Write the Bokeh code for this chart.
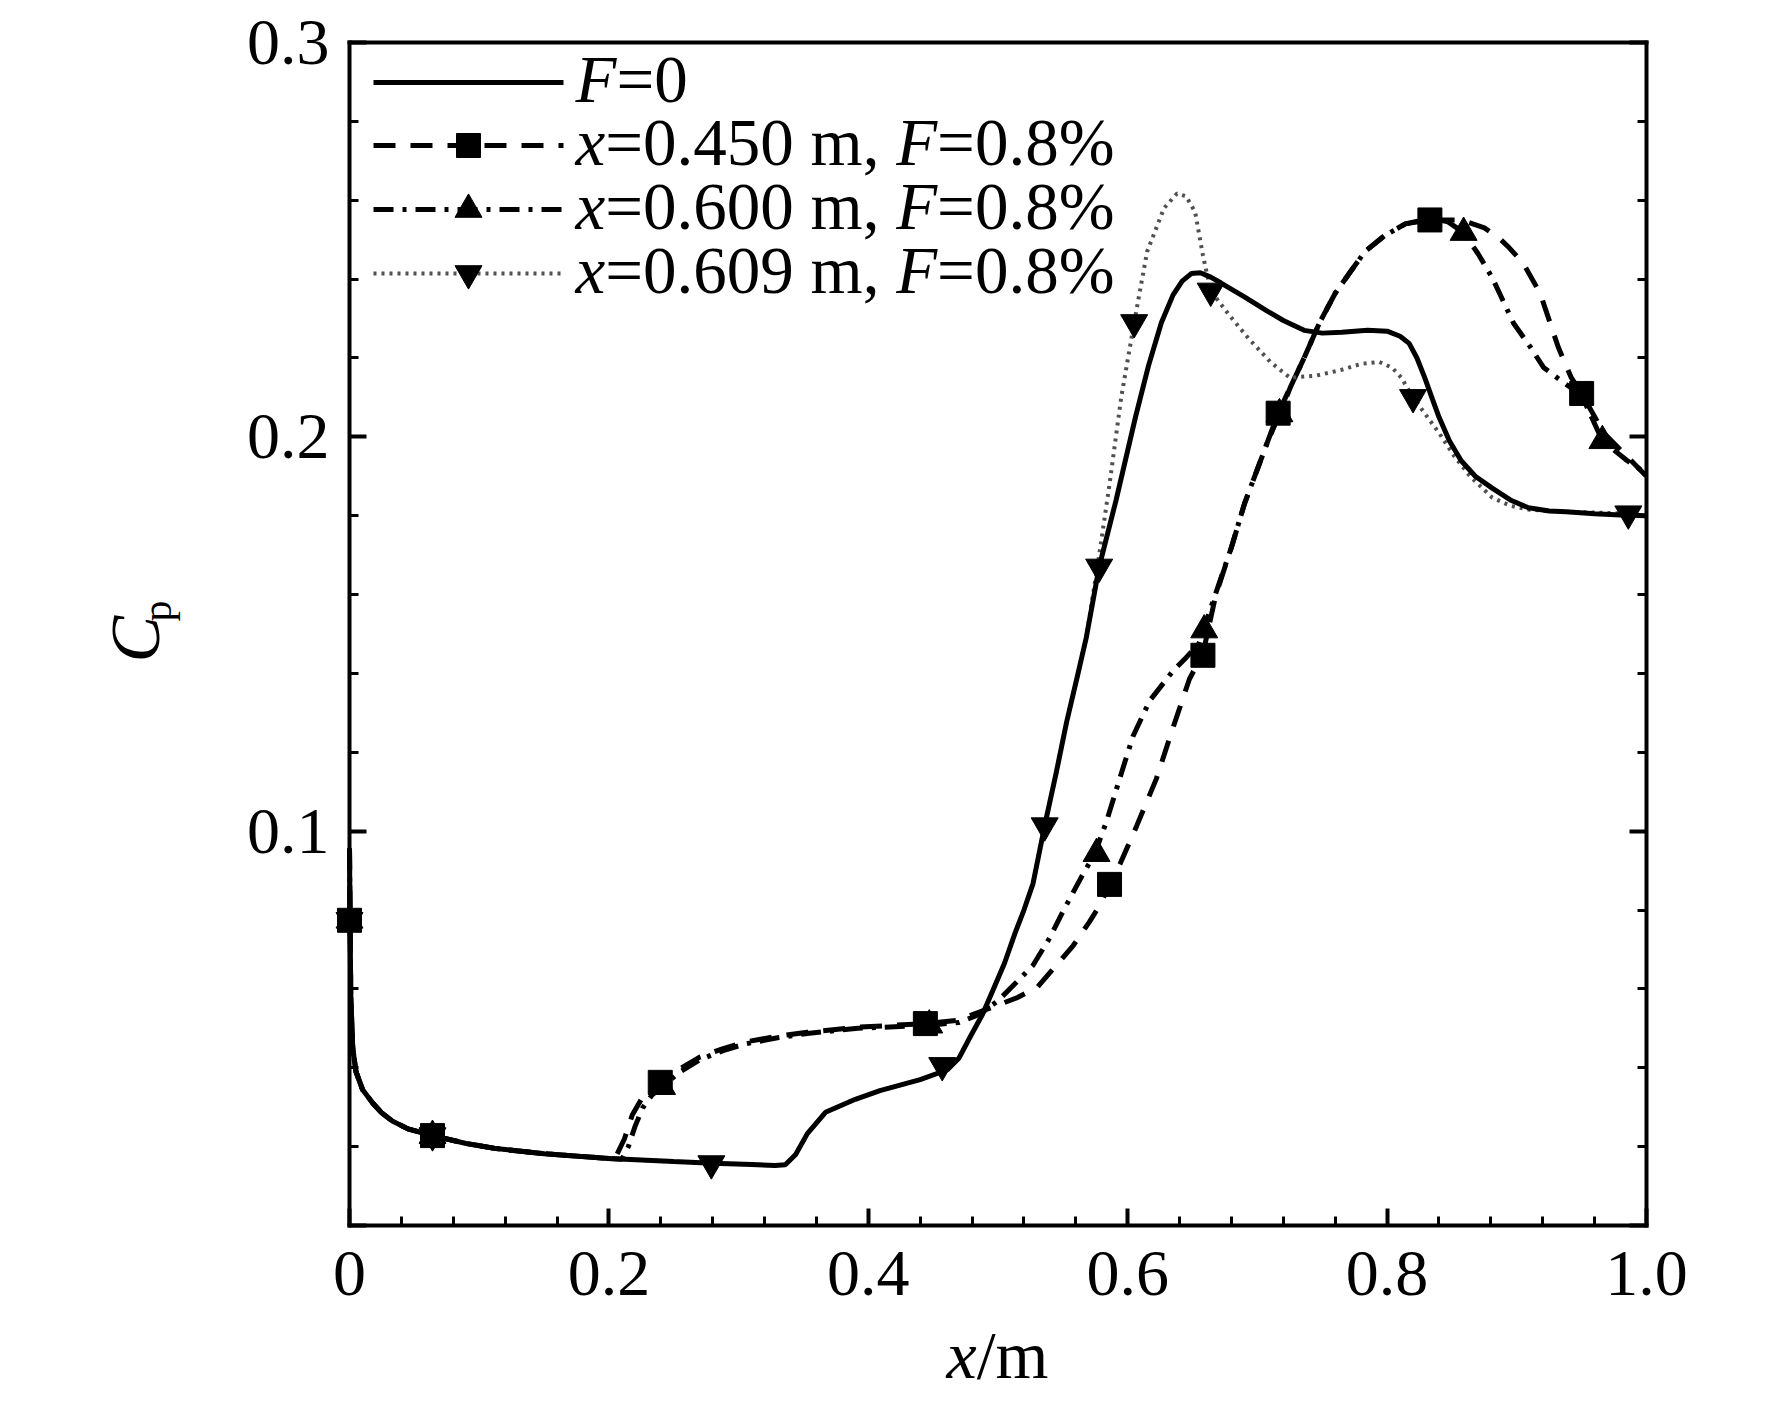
from math import pi
from bokeh.plotting import figure
from bokeh.models import FixedTicker, LinearAxis, Range1d
from bokeh.core.properties import value
from bokeh.embed import file_html
from bokeh.resources import INLINE

FONT = "Liberation Serif"

# ---------------- data ----------------
# F = 0 (solid)
x_f0 = [0.0, 0.0005, 0.001, 0.0025, 0.005, 0.01, 0.018, 0.025, 0.033, 0.045, 0.064,
        0.09, 0.113, 0.15, 0.2, 0.25, 0.28, 0.31, 0.328, 0.336, 0.344, 0.353, 0.367,
        0.39, 0.409, 0.44, 0.461, 0.47, 0.4785, 0.488, 0.496, 0.505, 0.513, 0.52,
        0.527, 0.536, 0.545, 0.553, 0.561, 0.568, 0.578, 0.591, 0.606, 0.616, 0.626,
        0.635, 0.642, 0.649, 0.656, 0.664, 0.672, 0.69, 0.707, 0.72, 0.736, 0.75,
        0.765, 0.785, 0.8, 0.81, 0.817, 0.823, 0.829, 0.835, 0.84, 0.848, 0.857,
        0.868, 0.881, 0.895, 0.909, 0.925, 0.938, 0.96, 0.98, 1.0]
cp_f0 = [0.0956, 0.075, 0.058, 0.045, 0.039, 0.0345, 0.031, 0.0285, 0.0265, 0.0245,
         0.0228, 0.0208, 0.0195, 0.0182, 0.0170, 0.0162, 0.0158, 0.0155, 0.0152, 0.0154,
         0.0180, 0.0233, 0.0287, 0.0320, 0.0342, 0.0370, 0.0395, 0.0425, 0.0478, 0.0535,
         0.0596, 0.0665, 0.0740, 0.0800, 0.0867, 0.1014, 0.1150, 0.1278, 0.1390, 0.1490,
         0.1670, 0.1839, 0.2050, 0.2180, 0.2290, 0.2360, 0.2395, 0.2414, 0.2416, 0.2405,
         0.2390, 0.2355, 0.2320, 0.2295, 0.2270, 0.2263, 0.2265, 0.2270, 0.2268, 0.2255,
         0.2237, 0.2200, 0.2150, 0.2095, 0.2050, 0.1990, 0.1940, 0.1900, 0.1870, 0.1840,
         0.1820, 0.1812, 0.1810, 0.1805, 0.1802, 0.1800]

# x = 0.450 m, F = 0.8% (dashed, squares)
x_450 = [0.0, 0.0005, 0.001, 0.0025, 0.005, 0.01, 0.018, 0.025, 0.033, 0.045, 0.064,
         0.09, 0.113, 0.15, 0.2, 0.205, 0.212, 0.218, 0.225, 0.2396, 0.255, 0.27,
         0.2875, 0.3045, 0.33, 0.353, 0.392, 0.444, 0.468, 0.496, 0.515, 0.5305, 0.545,
         0.558, 0.5705, 0.579, 0.586, 0.594, 0.607, 0.622, 0.6346, 0.6476, 0.658, 0.668,
         0.68, 0.69, 0.707, 0.716, 0.726, 0.736, 0.748, 0.76, 0.772, 0.783, 0.798, 0.814,
         0.833, 0.857, 0.875, 0.886, 0.894, 0.905, 0.918, 0.932, 0.942, 0.95, 0.967,
         0.985, 1.0]
cp_450 = [0.0956, 0.075, 0.058, 0.045, 0.039, 0.0345, 0.031, 0.0285, 0.0265, 0.0245,
          0.0228, 0.0208, 0.0195, 0.0182, 0.0170, 0.0172, 0.0220, 0.0280, 0.0320, 0.0363,
          0.0398, 0.0427, 0.0448, 0.0465, 0.0480, 0.0490, 0.0503, 0.0512, 0.0520, 0.0554,
          0.0578, 0.0605, 0.0660, 0.0710, 0.0770, 0.0815, 0.0865, 0.0916, 0.1014, 0.1132,
          0.1259, 0.1386, 0.1450, 0.1600, 0.1720, 0.1830, 0.1980, 0.2060, 0.2130, 0.2200,
          0.2290, 0.2364, 0.2420, 0.2470, 0.2510, 0.2540, 0.2550, 0.2550, 0.2530, 0.2505,
          0.2480, 0.2440, 0.2364, 0.2227, 0.2150, 0.2110, 0.2010, 0.1950, 0.1900]

# x = 0.600 m, F = 0.8% (dash-dot, triangles up)
x_600 = [0.0, 0.0005, 0.001, 0.0025, 0.005, 0.01, 0.018, 0.025, 0.033, 0.045, 0.064,
         0.09, 0.113, 0.15, 0.2, 0.21, 0.215, 0.22, 0.226, 0.233, 0.241, 0.255, 0.27,
         0.2875, 0.3045, 0.33, 0.353, 0.392, 0.447, 0.47, 0.4857, 0.5, 0.514, 0.527,
         0.54, 0.55, 0.565, 0.5745, 0.5836, 0.5937, 0.604, 0.617, 0.6346, 0.645, 0.655,
         0.6655, 0.68, 0.69, 0.707, 0.717, 0.726, 0.736, 0.748, 0.76, 0.772, 0.783,
         0.798, 0.814, 0.835, 0.847, 0.859, 0.87, 0.881, 0.8975, 0.91, 0.9206, 0.935,
         0.95, 0.966, 0.985, 1.0]
cp_600 = [0.0956, 0.075, 0.058, 0.045, 0.039, 0.0345, 0.031, 0.0285, 0.0265, 0.0245,
          0.0228, 0.0208, 0.0195, 0.0182, 0.0170, 0.0168, 0.0200, 0.0250, 0.0298, 0.0330,
          0.0352, 0.0390, 0.0420, 0.0443, 0.0460, 0.0476, 0.0487, 0.0500, 0.0508, 0.0515,
          0.0535, 0.0570, 0.0616, 0.0660, 0.0730, 0.0796, 0.0888, 0.0942, 0.1024, 0.1132,
          0.1240, 0.1331, 0.1405, 0.1440, 0.1476, 0.1580, 0.1720, 0.1830, 0.1980, 0.2058,
          0.2130, 0.2200, 0.2290, 0.2364, 0.2420, 0.2470, 0.2510, 0.2540, 0.2555, 0.2545,
          0.2518, 0.2465, 0.2404, 0.2288, 0.2230, 0.2176, 0.2140, 0.2105, 0.1990, 0.1940,
          0.1907]

# x = 0.609 m, F = 0.8% (dotted, triangles down)
x_609 = [0.0, 0.0005, 0.001, 0.0025, 0.005, 0.01, 0.018, 0.025, 0.033, 0.045, 0.064,
         0.09, 0.113, 0.15, 0.2, 0.25, 0.28, 0.31, 0.328, 0.336, 0.344, 0.353, 0.367,
         0.39, 0.409, 0.44, 0.461, 0.47, 0.4785, 0.488, 0.496, 0.505, 0.513, 0.52,
         0.527, 0.536, 0.545, 0.553, 0.561, 0.568, 0.578, 0.586, 0.595, 0.605, 0.615,
         0.628, 0.638, 0.645, 0.652, 0.658, 0.664, 0.678, 0.693, 0.71, 0.725, 0.745,
         0.765, 0.78, 0.794, 0.804, 0.811, 0.82, 0.83, 0.84, 0.852, 0.864, 0.881, 0.895,
         0.91, 0.938, 0.96, 0.986, 1.0]
cp_609 = [0.0956, 0.075, 0.058, 0.045, 0.039, 0.0345, 0.031, 0.0285, 0.0265, 0.0245,
          0.0228, 0.0208, 0.0195, 0.0182, 0.0170, 0.0162, 0.0158, 0.0155, 0.0152, 0.0154,
          0.0180, 0.0233, 0.0287, 0.0320, 0.0342, 0.0370, 0.0395, 0.0425, 0.0478, 0.0535,
          0.0596, 0.0665, 0.0740, 0.0800, 0.0867, 0.1014, 0.1150, 0.1278, 0.1390, 0.1490,
          0.1700, 0.1880, 0.2100, 0.2290, 0.2470, 0.2580, 0.2617, 0.2610, 0.2570, 0.2460,
          0.2370, 0.2310, 0.2250, 0.2190, 0.2150, 0.2155, 0.2170, 0.2185, 0.2190, 0.2175,
          0.2150, 0.2100, 0.2055, 0.2010, 0.1950, 0.1900, 0.1846, 0.1825, 0.1815, 0.1810,
          0.1808, 0.1805, 0.1800]

# symbol positions
sq_x = [0.0, 0.064, 0.2396, 0.444, 0.586, 0.658, 0.716, 0.833, 0.950]
sq_y = [0.0774, 0.0228, 0.0363, 0.0512, 0.0865, 0.1446, 0.2060, 0.2550, 0.2110]
tu_x = [0.0, 0.064, 0.241, 0.447, 0.576, 0.659, 0.717, 0.859, 0.966]
tu_y = [0.0774, 0.0228, 0.0352, 0.0508, 0.0943, 0.1510, 0.2058, 0.2518, 0.1990]
td_x = [0.0, 0.064, 0.279, 0.457, 0.536, 0.578, 0.605, 0.664, 0.820, 0.986]
td_y = [0.0774, 0.0228, 0.0157, 0.0406, 0.1014, 0.1670, 0.2290, 0.2370, 0.2100, 0.1805]

# axes
x_major = [0.0, 0.2, 0.4, 0.6, 0.8, 1.0]
x_tick_labels = ["0", "0.2", "0.4", "0.6", "0.8", "1.0"]
y_major = [0.0, 0.1, 0.2, 0.3]
y_tick_labels = ["", "0.1", "0.2", "0.3"]
x_minor = [round(0.04 * i, 2) for i in range(26)]
y_minor = [round(0.02 * i, 2) for i in range(16)]

# legend entries: (segment text, italic?)
legend_rows = [
    [("F", True), ("=0", False)],
    [("x", True), ("=0.450 m, ", False), ("F", True), ("=0.8%", False)],
    [("x", True), ("=0.600 m, ", False), ("F", True), ("=0.8%", False)],
    [("x", True), ("=0.609 m, ", False), ("F", True), ("=0.8%", False)],
]
x_title = [("x", True), ("/m", False)]
y_title = [("C", True), ("p", False)]

# ---------------- page geometry ----------------
FL, FT, FW, FH = 349, 42, 1297, 1183          # data box in page pixels
X0, X1, Y0, Y1 = 0.0, 1.0, 0.0, 0.3
CX, CY, W, H = 0, 0, 1760, 1400                # canvas on the page
BASE_SHIFT = 0.39                              # renderer's baseline offset (em)


def dx(px):
    return X0 + (px - FL) / FW * (X1 - X0)


def dy(py):
    return Y0 + (FT + FH - py) / FH * (Y1 - Y0)


W_REG = {c: 500 for c in "0123456789"}
W_REG.update({'.': 250, ',': 250, ' ': 250, 'm': 778, '=': 564, '%': 833, '/': 278,
              'p': 500, 'F': 556, 'x': 500})
W_ITA = {'x': 444, 'F': 611, 'C': 667}


def seg_w(s, italic, size):
    tbl = W_ITA if italic else W_REG
    return sum(tbl.get(c, W_REG.get(c, 500)) for c in s) / 1000.0 * size


# the plotting frame fills the canvas; axes are pinned to the data box
p = figure(width=W, height=H,
           x_range=Range1d(dx(CX), dx(CX + W)), y_range=Range1d(dy(CY + H), dy(CY)),
           output_backend="svg", toolbar_location=None, min_border=0,
           background_fill_color="white", border_fill_color="white")
p.grid.visible = False
p.outline_line_color = None


def style_axis(ax, ticks, minor, labels, standoff, show=True, tick_len=(17, 9)):
    ax.ticker = FixedTicker(ticks=ticks, minor_ticks=minor)
    ax.major_label_overrides = {t: (l if show else "") for t, l in zip(ticks, labels)}
    ax.axis_line_width = 4
    ax.axis_line_color = "black"
    ax.axis_line_cap = "square"
    ax.major_tick_line_width = 4
    ax.minor_tick_line_width = 3
    ax.major_tick_in = tick_len[0]
    ax.major_tick_out = 0
    ax.minor_tick_in = tick_len[1]
    ax.minor_tick_out = 0
    ax.major_label_text_font = FONT
    ax.major_label_text_font_size = "66px" if show else "0px"
    ax.major_label_text_color = "black"
    ax.major_label_standoff = standoff
    ax.axis_label = None


xa = p.xaxis[0]
xa.fixed_location = Y0
xa.bounds = (X0, X1)
style_axis(xa, x_major, x_minor, x_tick_labels, 26)

ya = p.yaxis[0]
ya.fixed_location = X0
ya.bounds = (Y0, Y1)
style_axis(ya, y_major, y_minor, y_tick_labels, 20)

ra = LinearAxis(fixed_location=X1, bounds=(Y0, Y1))
p.add_layout(ra, "right")
style_axis(ra, y_major, y_minor, y_tick_labels, 5, show=False)

ta = LinearAxis(fixed_location=Y1, bounds=(X0, X1))
p.add_layout(ta, "above")
style_axis(ta, [], [], [], 5, show=False, tick_len=(0, 0))

# ---------------- curves ----------------
S_SOLID = dict(line_color="black", line_width=5)
S_DASH = dict(line_color="black", line_width=5, line_dash="22 15")
S_DDOT = dict(line_color="black", line_width=5, line_dash="20 9 4 9")
S_DOT = dict(line_color="#505050", line_width=4, line_dash="3 5")

p.line(x_450, cp_450, **S_DASH)
p.line(x_600, cp_600, **S_DDOT)
p.line(x_609, cp_609, **S_DOT)
p.line(x_f0, cp_f0, **S_SOLID)

M_SQ = dict(marker="square", size=24, color="black")
M_TU = dict(marker="triangle", size=27, color="black")
M_TD = dict(marker="inverted_triangle", size=27, color="black")

p.scatter(sq_x, sq_y, **M_SQ)
p.scatter(tu_x, tu_y, **M_TU)
p.scatter(td_x, td_y, **M_TD)


def draw_segments(segs, x_px, base_px, size):
    """Place consecutive text runs (italic / upright) on one baseline."""
    cx = x_px
    y_px = base_px - BASE_SHIFT * size
    for s, it in segs:
        p.text(x=[dx(cx)], y=[dy(y_px)], text=[s], text_font=value(FONT),
               text_font_size=value(f"{size}px"),
               text_font_style="italic" if it else "normal",
               text_color="black", text_baseline="alphabetic", text_align="left")
        cx += seg_w(s, it, size)


# ---------------- legend (drawn by hand to allow italic parts) ----------------
row_y = [82, 145, 209, 273]
line_x0, line_x1, mark_x = 373, 563, 468
text_x = 575
LFS = 67
row_styles = [(S_SOLID, None), (S_DASH, M_SQ), (S_DDOT, M_TU), (S_DOT, M_TD)]
for ly, (ls, ms), segs in zip(row_y, row_styles, legend_rows):
    p.line([dx(line_x0), dx(line_x1)], [dy(ly), dy(ly)], **ls)
    if ms is not None:
        p.scatter([dx(mark_x)], [dy(ly)], **ms)
    draw_segments(segs, text_x, ly + 23, LFS)

# ---------------- axis titles ----------------
draw_segments(x_title, 946, 1381, 68)

# vertical title C_p (baseline is vertical, text reads upwards)
for (s, it), bx, by, fs in zip(y_title, [162, 173], [662, 621], [70, 42]):
    p.text(x=[dx(bx - BASE_SHIFT * fs)], y=[dy(by)], text=[s], text_font=value(FONT),
           text_font_size=value(f"{fs}px"),
           text_font_style="italic" if it else "normal", text_color="black",
           angle=pi / 2, text_baseline="alphabetic", text_align="left")

open("out.html", "w").write(file_html(p, INLINE))
